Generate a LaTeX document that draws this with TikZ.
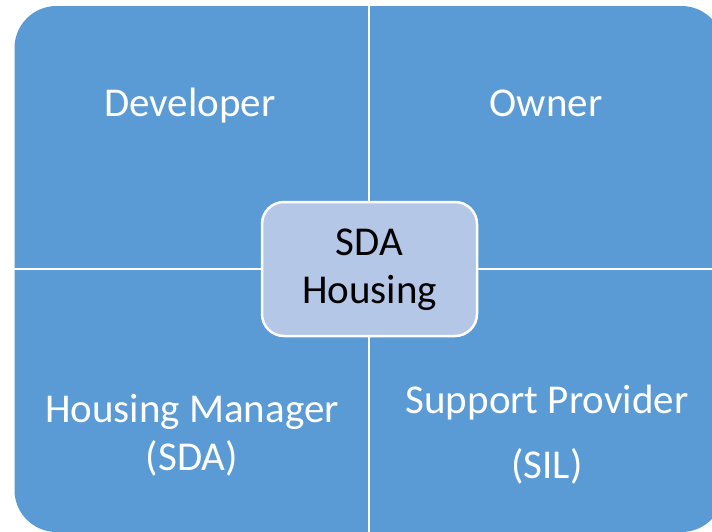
\documentclass[tikz,border=0pt]{standalone}
\usepackage{fontspec}
\setmainfont{Carlito}
\definecolor{quadblue}{RGB}{91,155,213}
\definecolor{hubblue}{RGB}{180,199,231}
\tikzset{
  quadlabel/.style={text=white, font=\fontsize{41}{48}\selectfont, align=center, anchor=base, inner sep=0pt},
  hub/.style={draw=white, line width=2.5pt, fill=hubblue, rounded corners=22pt,
              minimum width=215pt, minimum height=134pt, inner sep=0pt,
              text height=68pt, text depth=0pt,
              font=\fontsize{41}{48}\selectfont, align=center, text=black},
  divider/.style={draw=white, line width=2.6pt}
}
\begin{document}
\begin{tikzpicture}[x=1pt, y=-1pt]
  \useasboundingbox (0,0) rectangle (712,531);
  \clip (0,0) rectangle (712,531);
  % matrix background with rounded outer corners
  \fill[quadblue, rounded corners=42pt] (14.5,6) rectangle (723.5,532);
  % quadrant separators
  \coordinate (vtop) at (369,0);
  \coordinate (vbot) at (369,540);
  \coordinate (hleft) at (10,269);
  \coordinate (hright) at (730,269);
  \draw[divider] (vtop) -- (vbot);
  \draw[divider] (hleft) -- (hright);
  % quadrant labels (base anchor sits on the last line)
  \node[quadlabel] (dev) at (190,116) {Developer};
  \node[quadlabel] (own) at (546,116) {Owner};
  \node[quadlabel] (mgr) at (192,470) {Housing Manager\\(SDA)};
  \node[quadlabel] (sup) at (547,478) {Support Provider\\[17pt](SIL)};
  % central hub
  \node[hub] (sda) at (369.5,269) {SDA\\Housing};
\end{tikzpicture}
\end{document}
